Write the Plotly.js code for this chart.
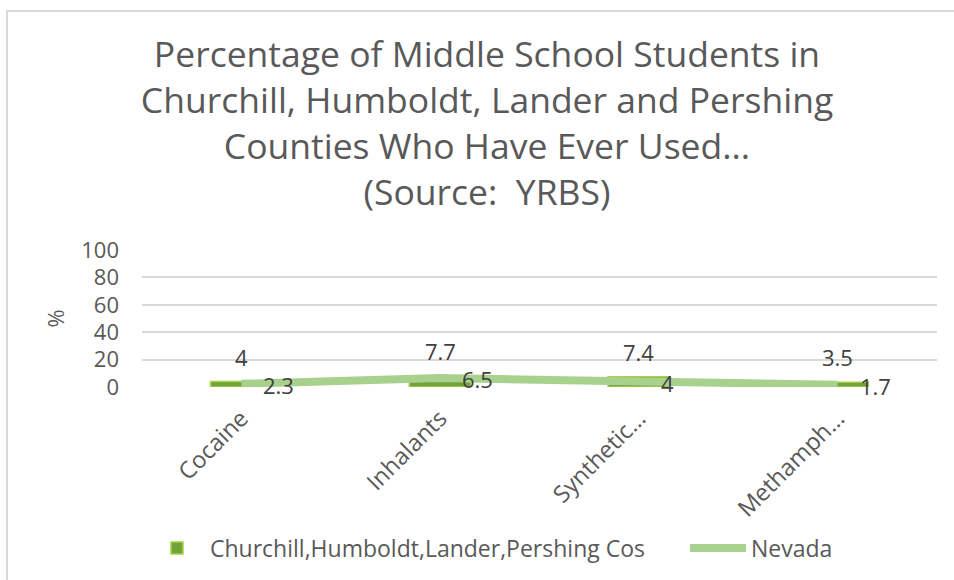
<!DOCTYPE html>
<html>
<head>
<meta charset="utf-8">
<script src="https://cdn.plot.ly/plotly-3.0.1.min.js"></script>
<style>
  html, body { margin: 0; padding: 0; background: #ffffff; }
  #frame { position: absolute; left: 6px; top: 10px; width: 960px; height: 580px; border: 2px solid #d9d9d9; box-sizing: border-box; }
  #chart { position: absolute; left: 0; top: 0; width: 954px; height: 580px; }
</style>
</head>
<body>
<div id="frame"></div>
<div id="chart"></div>
<script>
const categories = ["Cocaine", "Inhalants", "Synthetic…", "Methamph…"];
const countyValues = [4, 7.7, 7.4, 3.5];
const nevadaValues = [2.3, 6.5, 4, 1.7];
const countyName = "Churchill,Humboldt,Lander,Pershing Cos";
const nevadaName = "Nevada";
const yTicks = [0, 20, 40, 60, 80, 100];

const FONT = "Open Sans, sans-serif";
const TXT = "#595959";

const traces = [
  {
    type: "bar",
    name: countyName,
    x: categories,
    y: countyValues,
    marker: { color: "#70a33a", line: { color: "#a9d046", width: 1.5 } },
    legendwidth: 470,
    hoverinfo: "skip"
  },
  {
    type: "scatter",
    mode: "lines",
    name: nevadaName,
    x: categories,
    y: nevadaValues,
    line: { color: "#a9d18e", width: 8 },
    legendwidth: 90,
    hoverinfo: "skip"
  }
];

const annotations = [];
categories.forEach((c, i) => {
  annotations.push({
    x: c, y: countyValues[i], xref: "x", yref: "y",
    text: String(countyValues[i]), showarrow: false,
    yanchor: "middle", xanchor: "center", yshift: 25,
    font: { family: FONT, size: 22, color: "#404040" }
  });
  annotations.push({
    x: c, y: nevadaValues[i], xref: "x", yref: "y",
    text: String(nevadaValues[i]), showarrow: false,
    yanchor: "middle", xanchor: "left", xshift: 20, yshift: -1,
    font: { family: FONT, size: 22, color: "#404040" }
  });
});

const layout = {
  width: 954, height: 580,
  paper_bgcolor: "rgba(0,0,0,0)",
  plot_bgcolor: "rgba(0,0,0,0)",
  margin: { l: 142, r: 17, t: 250, b: 193 },
  font: { family: FONT, color: TXT },
  title: {
    text: "Percentage of Middle School Students in<br>Churchill, Humboldt, Lander and Pershing<br>Counties Who Have Ever Used...<br>(Source:  YRBS)",
    font: { family: FONT, size: 35.5, color: TXT },
    x: 487 / 954, xref: "container", xanchor: "center",
    y: 1 - 67 / 580, yref: "container", yanchor: "top"
  },
  bargap: 0.69,
  showlegend: true,
  legend: {
    orientation: "h",
    xref: "container", yref: "container",
    x: 144 / 954, xanchor: "left",
    y: 1 - 548 / 580, yanchor: "middle",
    font: { family: FONT, size: 23, color: TXT },
    itemwidth: 56,
    entrywidthmode: "pixels",
    tracegroupgap: 0
  },
  xaxis: {
    type: "category",
    tickangle: -45,
    tickfont: { family: FONT, size: 23.5, color: TXT },
    ticklabelstandoff: 12,
    showgrid: false,
    showline: false,
    ticks: "",
    zeroline: false,
    fixedrange: true
  },
  yaxis: {
    range: [0, 100],
    tickvals: yTicks,
    ticktext: yTicks.map(String),
    tickfont: { family: FONT, size: 22, color: TXT },
    showgrid: true,
    gridcolor: "#d9d9d9",
    gridwidth: 2,
    zeroline: false,
    showline: false,
    ticks: "",
    ticklabelstandoff: 22,
    title: { text: "%", font: { family: FONT, size: 22, color: TXT }, standoff: 10 },
    fixedrange: true
  },
  annotations: annotations
};

Plotly.newPlot("chart", traces, layout, { displayModeBar: false, staticPlot: true });
</script>
</body>
</html>
